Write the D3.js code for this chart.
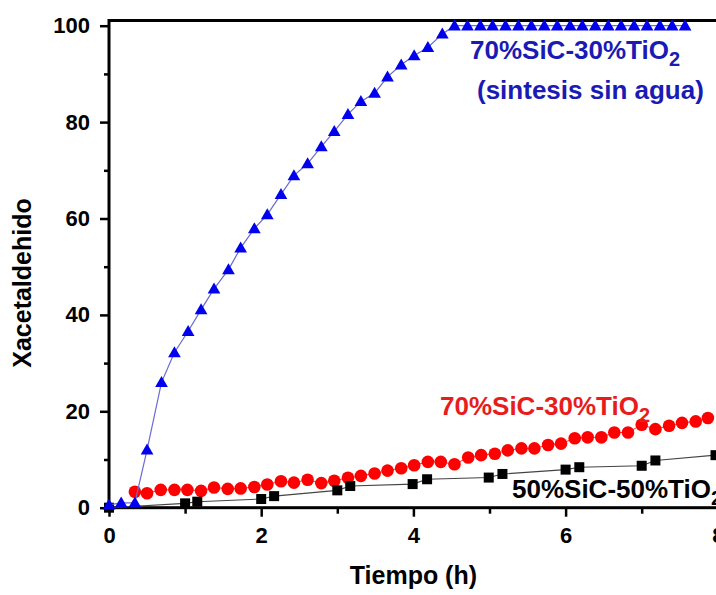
<!DOCTYPE html>
<html>
<head>
<meta charset="utf-8">
<script src="https://cdn.jsdelivr.net/npm/d3@7"></script>
<style>
  html, body { margin: 0; padding: 0; background: #fff; }
  svg { display: block; }
  text { font-family: "Liberation Sans", Arial, sans-serif; font-weight: bold; }
</style>
</head>
<body>
<svg id="chart" width="716" height="595"></svg>
<script>
// ---- Data ----
const blueTime = [0, 0.16, 0.34, 0.50, 0.69, 0.86, 1.04, 1.21, 1.38, 1.57, 1.73, 1.91, 2.08, 2.26, 2.43, 2.61, 2.79, 2.96, 3.14, 3.31, 3.49, 3.66, 3.84, 4.01, 4.19, 4.38,
  4.54, 4.71, 4.88, 5.04, 5.21, 5.38, 5.55, 5.72, 5.89, 6.06, 6.22, 6.39, 6.56, 6.73, 6.90, 7.07, 7.24, 7.40, 7.57];
const blueValue = [0.6, 1.0, 1.0, 12.0, 26.0, 32.2, 36.6, 41.1, 45.4, 49.4, 53.9, 57.9, 60.8, 65.0, 68.9, 71.4, 74.9, 78.1, 81.6, 84.3, 86.0, 89.4, 91.9, 93.8, 95.5, 98.3,
  100, 100, 100, 100, 100, 100, 100, 100, 100, 100, 100, 100, 100, 100, 100, 100, 100, 100, 100];

const redTime = [0.34, 0.50, 0.68, 0.86, 1.03, 1.21, 1.38, 1.56, 1.73, 1.91, 2.08, 2.26, 2.43, 2.61, 2.79, 2.96, 3.14, 3.31, 3.49, 3.66, 3.84, 4.01,
  4.19, 4.36, 4.54, 4.72, 4.89, 5.07, 5.24, 5.42, 5.59, 5.77, 5.94, 6.12, 6.29, 6.47, 6.64, 6.82, 7.00, 7.18, 7.36, 7.53, 7.71, 7.87];
const redValue = [3.3, 3.0, 3.7, 3.7, 3.7, 3.5, 4.2, 3.9, 4.0, 4.3, 4.8, 5.5, 5.2, 5.8, 5.1, 5.6, 6.2, 6.6, 7.1, 7.7, 8.2, 8.8,
  9.5, 9.5, 9.0, 10.4, 10.9, 11.2, 11.9, 12.3, 12.3, 13.0, 13.3, 14.4, 14.6, 14.6, 15.6, 15.6, 17.2, 16.3, 17.0, 17.6, 17.9, 18.6];

const blackTime = [0, 1.0, 1.16, 2.0, 2.17, 3.0, 3.17, 3.99, 4.18, 4.99, 5.17, 6.0, 6.18, 7.0, 7.18, 7.97];
const blackValue = [0, 0.9, 1.25, 1.8, 2.4, 3.6, 4.5, 4.9, 5.9, 6.25, 7.0, 7.9, 8.4, 8.7, 9.8, 10.9];

const xMajorTicks = [0, 2, 4, 6, 8];
const xMinorTicks = [1, 3, 5, 7];
const yMajorTicks = [0, 20, 40, 60, 80, 100];
const yMinorTicks = [10, 30, 50, 70, 90];

const xTitle = "Tiempo (h)";
const yTitle = "Xacetaldehido";

// ---- Layout ----
const svg = d3.select("#chart");
const mLeft = 109, mRight = 717.8, mTop = 20.5, mBottom = 507.7;

const x = d3.scaleLinear().domain([0, 8]).range([mLeft, mRight]);
const y = d3.scaleLinear().domain([0, 101.08]).range([mBottom, mTop]);

// axes
const gx = svg.append("g").attr("transform", `translate(0,${mBottom})`)
  .call(d3.axisBottom(x).tickValues(xMajorTicks).tickSize(9).tickPadding(11).tickFormat(d3.format("d")));
const gxm = svg.append("g").attr("transform", `translate(0,${mBottom})`)
  .call(d3.axisBottom(x).tickValues(xMinorTicks).tickSize(6).tickFormat(""));
const gy = svg.append("g").attr("transform", `translate(${mLeft},0)`)
  .call(d3.axisLeft(y).tickValues(yMajorTicks).tickSize(9).tickPadding(10).tickFormat(d3.format("d")));
const gym = svg.append("g").attr("transform", `translate(${mLeft},0)`)
  .call(d3.axisLeft(y).tickValues(yMinorTicks).tickSize(5).tickFormat(""));

[gx, gxm, gy, gym].forEach(g => {
  g.select(".domain").remove();
  g.selectAll(".tick line").attr("stroke", "#000").attr("stroke-width", 2.5);
  g.selectAll(".tick text").attr("fill", "#000").style("font-size", "22px")
    .style("font-family", "'Liberation Sans', Arial, sans-serif").style("font-weight", "bold");
});

// frame
svg.append("rect")
  .attr("x", mLeft).attr("y", mTop)
  .attr("width", mRight - mLeft).attr("height", mBottom - mTop)
  .attr("fill", "none").attr("stroke", "#000").attr("stroke-width", 3);

// axis titles
svg.append("text")
  .attr("x", (mLeft + mRight) / 2).attr("y", 584)
  .attr("text-anchor", "middle").style("font-size", "25px").attr("fill", "#000")
  .text(xTitle);
svg.append("text")
  .attr("transform", `translate(31,283) rotate(-90)`)
  .attr("text-anchor", "middle").style("font-size", "25px").attr("fill", "#000")
  .text(yTitle);

const line = d3.line().x(d => x(d[0])).y(d => y(d[1]));

// red series
const redData = redTime.map((t, i) => [t, redValue[i]]);
svg.append("path").datum(redData).attr("d", line)
  .attr("fill", "none").attr("stroke", "#ff3030").attr("stroke-width", 1);
svg.selectAll(".redpt").data(redData).enter().append("circle")
  .attr("cx", d => x(d[0])).attr("cy", d => y(d[1])).attr("r", 6.3)
  .attr("fill", "#ff0000");

// black series
const blackData = blackTime.map((t, i) => [t, blackValue[i]]);
svg.append("path").datum(blackData).attr("d", line)
  .attr("fill", "none").attr("stroke", "#444").attr("stroke-width", 1.1);
const sq = 10;
svg.selectAll(".blkpt").data(blackData).enter().append("rect")
  .attr("x", d => x(d[0]) - sq / 2).attr("y", d => y(d[1]) - sq / 2)
  .attr("width", sq).attr("height", sq).attr("fill", "#000");

// blue series
const blueData = blueTime.map((t, i) => [t, blueValue[i]]);
svg.append("path").datum(blueData).attr("d", line)
  .attr("fill", "none").attr("stroke", "#6a6ad0").attr("stroke-width", 1.2);
const tri = d3.symbol().type(d3.symbolTriangle).size(70);
svg.selectAll(".bluept").data(blueData).enter().append("path")
  .attr("d", tri)
  .attr("transform", d => `translate(${x(d[0])},${y(d[1]) + 1})`)
  .attr("fill", "#0000ee");

// annotations
function label(xp, yp, color, main, sub) {
  const t = svg.append("text").attr("x", xp).attr("y", yp).attr("fill", color).style("font-size", "26px");
  t.append("tspan").text(main);
  if (sub) {
    t.append("tspan").attr("dy", 7).style("font-size", "20px").text(sub);
  }
  return t;
}
label(470, 59, "#1a1ab4", "70%SiC-30%TiO", "2");
svg.append("text").attr("x", 477).attr("y", 99).attr("fill", "#1a1ab4").style("font-size", "26px")
  .text("(sintesis sin agua)");
label(440, 415, "#e81c1c", "70%SiC-30%TiO", "2");
label(512, 498, "#000", "50%SiC-50%TiO", "2");
</script>
</body>
</html>
